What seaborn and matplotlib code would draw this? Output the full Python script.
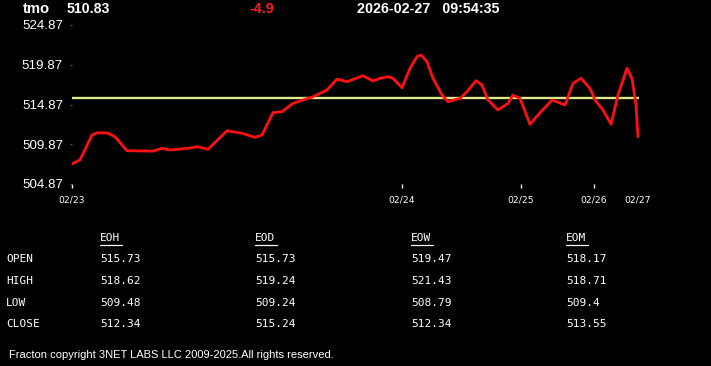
import matplotlib
matplotlib.use("Agg")
import matplotlib.pyplot as plt
from matplotlib.lines import Line2D
import seaborn as sns
import pandas as pd

# ---------------- data ----------------
symbol = "tmo"
last_price = "510.83"
change = "-4.9"
timestamp = "2026-02-27   09:54:35"

t = [0, 8, 20, 25, 35, 43, 55, 81, 90, 98, 116, 126, 136, 155, 170, 183, 190,
     201, 210, 221, 241, 255, 265, 275, 291, 301,
     308, 316, 321, 330, 338, 345, 349, 355, 361, 370, 376, 388, 395, 404, 410,
     416, 426, 436, 441, 448, 458, 466, 480, 493, 501, 509, 518, 523, 531, 539,
     546, 555, 560, 564, 566]
price = [507.39, 507.90, 511.03, 511.30, 511.30, 510.82, 509.06, 509.00, 509.36,
         509.15, 509.36, 509.56, 509.23, 511.57, 511.25, 510.74, 511.03, 513.84,
         513.96, 515.02, 515.85, 516.69, 518.07, 517.74, 518.49, 517.83,
         518.16, 518.37, 518.16, 516.98, 519.42, 520.89, 521.10, 520.26, 518.16,
         516.06, 515.22, 515.64, 516.48, 517.87, 517.32, 515.44, 514.18, 515.02,
         516.06, 515.64, 512.38, 513.55, 515.44, 514.81, 517.53, 518.16, 516.90,
         515.44, 514.18, 512.38, 516.06, 519.42, 518.16, 514.81, 510.82]
ref_level = 515.73

x_ticks = [0, 330, 449, 522, 566]
x_tick_labels = ["02/23", "02/24", "02/25", "02/26", "02/27"]
y_ticks = [504.87, 509.87, 514.87, 519.87, 524.87]

row_labels = ["OPEN", "HIGH", "LOW", "CLOSE"]
col_labels = ["EOH", "EOD", "EOW", "EOM"]
eoh = ["515.73", "518.62", "509.48", "512.34"]
eod = ["515.73", "519.24", "509.24", "515.24"]
eow = ["519.47", "521.43", "508.79", "512.34"]
eom = ["518.17", "518.71", "509.4", "513.55"]
footer = "Fracton copyright 3NET LABS LLC 2009-2025.All rights reserved."

# ---------------- figure ----------------
sns.set_style("dark", {"axes.facecolor": "black", "figure.facecolor": "black"})
plt.rcParams["font.family"] = ["Liberation Sans", "DejaVu Sans"]

W, H = 711, 366
fig = plt.figure(figsize=(W / 100, H / 100), dpi=100, facecolor="black")

def fx(px):
    return px / W

def fy(py):
    return 1 - py / H

ax_left, ax_right, ax_top, ax_bot = 72, 639, 25, 184
ax = fig.add_axes([fx(ax_left), fy(ax_bot), (ax_right - ax_left) / W, (ax_bot - ax_top) / H])
ax.set_facecolor("black")

df = pd.DataFrame({"t": t, "price": price})
ax.axhline(ref_level, xmin=0, xmax=1, color="#dfe88c", lw=1.7, zorder=2)
sns.lineplot(data=df, x="t", y="price", ax=ax, color="#ff1010", lw=2.0, zorder=3)
for ln in ax.get_lines():
    ln.set_solid_joinstyle("round")
    ln.set_solid_capstyle("round")

ax.set_xlim(0, 567)
ax.set_ylim(504.87, 524.87)
ax.set_xlabel("")
ax.set_ylabel("")
for s in ax.spines.values():
    s.set_visible(False)
ax.grid(False)

ax.set_yticks(y_ticks)
ax.set_yticklabels([f"{v:.2f}" for v in y_ticks], color="white", fontsize=9.6)
ax.tick_params(axis="y", left=True, length=1.5, width=1, color="#555555", pad=5)

ax.set_xticks(x_ticks)
ax.set_xticklabels(x_tick_labels, color="white", fontsize=6.6, family=["DejaVu Sans"])
ax.tick_params(axis="x", bottom=True, length=3, width=1, color="white", pad=5, direction="out")
ax.xaxis.get_major_ticks()[-1].tick1line.set_visible(False)

# ---------------- header ----------------
fig.text(fx(23), fy(9), symbol, color="white", fontsize=10.6, fontweight="bold", va="center")
fig.text(fx(67), fy(9), last_price, color="white", fontsize=10.2, fontweight="bold", va="center")
fig.text(fx(250), fy(9), change, color="#ff1a1a", fontsize=10.2, fontweight="bold", va="center")
fig.text(fx(357), fy(9), timestamp, color="white", fontsize=10.3, fontweight="bold", va="center")

# ---------------- table ----------------
mono = ["DejaVu Sans Mono"]
col_x = [100, 255, 411, 566]
row_y = [259, 281, 303, 324]
head_y = 238
for cx, name in zip(col_x, col_labels):
    fig.text(fx(cx), fy(head_y), name, color="white", fontsize=8.0,
             family=mono, va="center")
    fig.add_artist(Line2D([fx(cx), fx(cx + 22)], [fy(244.5), fy(244.5)],
                          color="white", lw=0.9, transform=fig.transFigure))
for ry, lab in zip(row_y, row_labels):
    fig.text(fx(6), fy(ry), lab, color="white", fontsize=8.0, family=mono, va="center")
for cx, col in zip(col_x, [eoh, eod, eow, eom]):
    for ry, val in zip(row_y, col):
        fig.text(fx(cx), fy(ry), val, color="white", fontsize=8.0, family=mono, va="center")

fig.text(fx(9), fy(355), footer, color="white", fontsize=8.0, va="center")

fig.savefig("out.png", dpi=100, facecolor="black")
